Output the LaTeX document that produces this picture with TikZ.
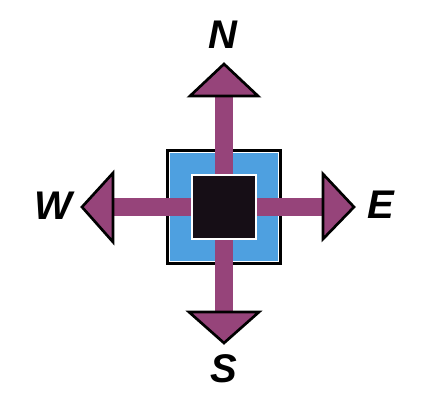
\documentclass[tikz,border=0pt]{standalone}
\usepackage{fontspec}
\setsansfont{Liberation Sans}
\usetikzlibrary{positioning, calc}
\definecolor{cArm}{RGB}{150,68,122}
\definecolor{cBlue}{RGB}{78,160,224}
\definecolor{cCore}{RGB}{22,14,22}

\tikzset{
    frame/.style={draw=black, fill=cBlue, line width=2.6pt, minimum size=84pt, inner sep=0pt},
    core/.style={draw=white, fill=cCore, line width=0.9pt, minimum size=48pt, inner sep=0pt},
    arm/.style={cArm, line width=13.5pt},
    head/.style={draw=black, fill=cArm, line width=2pt, line join=miter},
    dirlabel/.style={font=\sffamily\bfseries\itshape\fontsize{30}{30}\selectfont, inner sep=0pt}
}

\begin{document}
\begin{tikzpicture}[x=0.75pt, y=-0.75pt]
    \useasboundingbox (0,0) rectangle (422,401);

    % Centre and arrow bases
    \coordinate (ctr) at (224,207);
    \coordinate (nbase) at (224,96);
    \coordinate (sbase) at (224,312);
    \coordinate (wbase) at (113,207);
    \coordinate (ebase) at (323,207);

    % --- Blue frame ---
    \node[frame] (frame) at (ctr) {};
    \draw[white, line width=1pt] ([xshift=2.6pt,yshift=-2.6pt]frame.north west) rectangle ([xshift=-2.6pt,yshift=2.6pt]frame.south east);

    % --- Arms ---
    \draw[arm] (ctr) -- (nbase);
    \draw[arm] (ctr) -- (sbase);
    \draw[arm] (ctr) -- (wbase);
    \draw[arm] (ctr) -- (ebase);

    % --- Black core ---
    \node[core] (core) at (ctr) {};

    % --- Arrow heads ---
    % North
    \draw[head] ($(nbase)+(-34,0)$) -- ($(nbase)+(0,-32)$) -- ($(nbase)+(34,0)$) -- cycle;
    % South
    \draw[head] ($(sbase)+(-35,0)$) -- ($(sbase)+(0,31)$) -- ($(sbase)+(35,0)$) -- cycle;
    % West
    \draw[head] ($(wbase)+(0,-34)$) -- ($(wbase)+(-31,0)$) -- ($(wbase)+(0,35)$) -- cycle;
    % East
    \draw[head] ($(ebase)+(0,-33)$) -- ($(ebase)+(31,0)$) -- ($(ebase)+(0,32)$) -- cycle;

    % --- Direction labels ---
    \node[dirlabel] (lblN) at (223,35) {N};
    \node[dirlabel] (lblS) at (224,369) {S};
    \node[dirlabel] (lblW) at (53,206) {W};
    \node[dirlabel] (lblE) at (381,205) {E};

\end{tikzpicture}
\end{document}
